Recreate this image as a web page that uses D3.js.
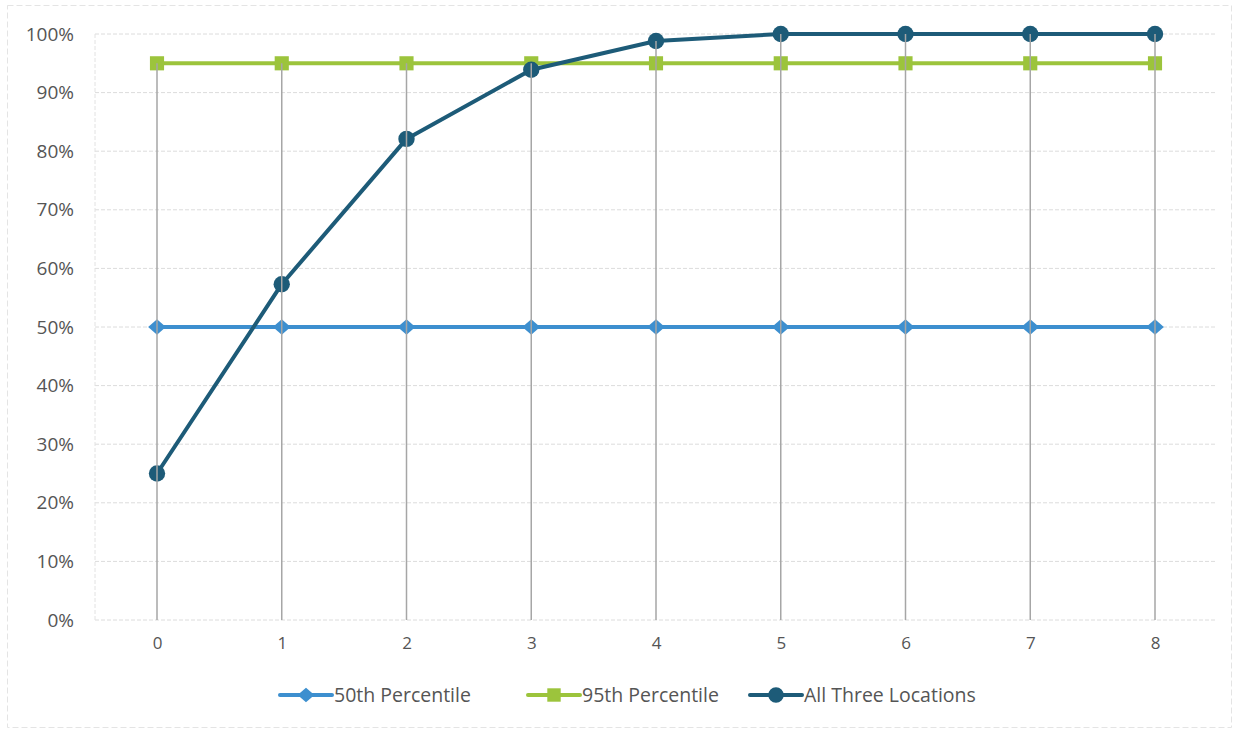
<!DOCTYPE html>
<html>
<head>
<meta charset="utf-8">
<script src="https://cdn.jsdelivr.net/npm/d3@7"></script>
<style>
  html, body { margin: 0; padding: 0; background: #fff; }
  svg { display: block; }
</style>
</head>
<body>
<svg id="chart" width="1238" height="730"></svg>
<script>
// Categories along the x axis
const categories = [0, 1, 2, 3, 4, 5, 6, 7, 8];

// Series values (fractions of 1)
const p50 = [0.50, 0.50, 0.50, 0.50, 0.50, 0.50, 0.50, 0.50, 0.50];
const p95 = [0.95, 0.95, 0.95, 0.95, 0.95, 0.95, 0.95, 0.95, 0.95];
const allThree = [0.25, 0.573, 0.821, 0.939, 0.988, 1.00, 1.00, 1.00, 1.00];

// Y tick values
const yTicks = [0, 0.1, 0.2, 0.3, 0.4, 0.5, 0.6, 0.7, 0.8, 0.9, 1.0];

const seriesNames = ["50th Percentile", "95th Percentile", "All Three Locations"];

const series = [
  { name: seriesNames[0], values: p50, color: "#3d8fcf", marker: "diamond" },
  { name: seriesNames[1], values: p95, color: "#9cc43c", marker: "square" },
  { name: seriesNames[2], values: allThree, color: "#1d5b78", marker: "circle" }
];

const svg = d3.select("#chart");
const W = 1238, H = 730;
const font = "'Open Sans', 'Liberation Sans', sans-serif";

// Outer chart border
svg.append("rect")
  .attr("x", 7.5).attr("y", 5.5)
  .attr("width", W - 14).attr("height", H - 8)
  .attr("fill", "none")
  .attr("stroke", "#e4e4e4")
  .attr("stroke-width", 1)
  .attr("stroke-dasharray", "6,3");

const plot = { left: 95, right: 1216, top: 34, bottom: 620 };

const x = d3.scalePoint()
  .domain(categories)
  .range([157, 1155]);

const y = d3.scaleLinear()
  .domain([0, 1])
  .range([plot.bottom, plot.top]);

// Horizontal gridlines
svg.append("g")
  .selectAll("line")
  .data(yTicks)
  .join("line")
  .attr("x1", plot.left).attr("x2", plot.right)
  .attr("y1", d => y(d)).attr("y2", d => y(d))
  .attr("stroke", "#dcdcdc")
  .attr("stroke-width", 1)
  .attr("stroke-dasharray", "4,2");

// Left edge of plot area
svg.append("line")
  .attr("x1", plot.left).attr("x2", plot.left)
  .attr("y1", plot.top).attr("y2", plot.bottom)
  .attr("stroke", "#e2e2e2")
  .attr("stroke-dasharray", "4,2");

// Y axis labels
const yAxis = d3.axisLeft(y)
  .tickValues(yTicks)
  .tickFormat(d3.format(".0%"))
  .tickSize(0)
  .tickPadding(0);
const gy = svg.append("g")
  .attr("transform", `translate(${plot.left - 21},0)`)
  .call(yAxis);
gy.select(".domain").remove();
gy.selectAll("text")
  .attr("font-family", font)
  .attr("font-size", 19)
  .attr("fill", "#555");

// X axis labels
const xAxis = d3.axisBottom(x).tickSize(0).tickPadding(0);
const gx = svg.append("g")
  .attr("transform", `translate(0,${plot.bottom + 17})`)
  .call(xAxis);
gx.select(".domain").remove();
gx.selectAll("text")
  .attr("font-family", font)
  .attr("font-size", 17)
  .attr("fill", "#555");

// Lines
const line = d3.line()
  .x((d, i) => x(categories[i]))
  .y(d => y(d));

svg.append("g")
  .selectAll("path")
  .data(series)
  .join("path")
  .attr("d", s => line(s.values))
  .attr("fill", "none")
  .attr("stroke", s => s.color)
  .attr("stroke-width", 4)
  .attr("stroke-linejoin", "round");

// Markers
const symbolType = { diamond: d3.symbolSquare, square: d3.symbolSquare, circle: d3.symbolCircle };
const symbolSize = { diamond: 130, square: 200, circle: 210 };

function drawMarker(g, s, cx, cy, scale) {
  g.append("path")
    .attr("transform", s.marker === "diamond"
      ? `translate(${cx},${cy}) scale(1.1,0.95) rotate(45)`
      : `translate(${cx},${cy})`)
    .attr("d", d3.symbol().type(symbolType[s.marker]).size(symbolSize[s.marker] * (scale || 1))())
    .attr("fill", s.color);
}

const markers = svg.append("g");
series.forEach(s => {
  s.values.forEach((v, i) => drawMarker(markers, s, x(categories[i]), y(v)));
});

// Drop lines from the highest point to the axis
svg.append("g")
  .selectAll("line")
  .data(categories)
  .join("line")
  .attr("x1", d => x(d)).attr("x2", d => x(d))
  .attr("y1", (d, i) => y(d3.max(series, s => s.values[i])))
  .attr("y2", plot.bottom)
  .attr("stroke", "#a6a6a6")
  .attr("stroke-width", 1.5);

// Legend
const legendItems = [
  { s: series[0], x0: 280 },
  { s: series[1], x0: 528 },
  { s: series[2], x0: 750 }
];
const ly = 695;
const lg = svg.append("g");
legendItems.forEach(it => {
  lg.append("line")
    .attr("x1", it.x0).attr("x2", it.x0 + 52)
    .attr("y1", ly).attr("y2", ly)
    .attr("stroke", it.s.color)
    .attr("stroke-width", 4)
    .attr("stroke-linecap", "round");
  drawMarker(lg, it.s, it.x0 + 26, ly, 0.9);
  lg.append("text")
    .attr("x", it.x0 + 54)
    .attr("y", ly)
    .attr("dy", "0.35em")
    .attr("font-family", font)
    .attr("font-size", 19.5)
    .attr("fill", "#555")
    .text(it.s.name);
});
</script>
</body>
</html>
